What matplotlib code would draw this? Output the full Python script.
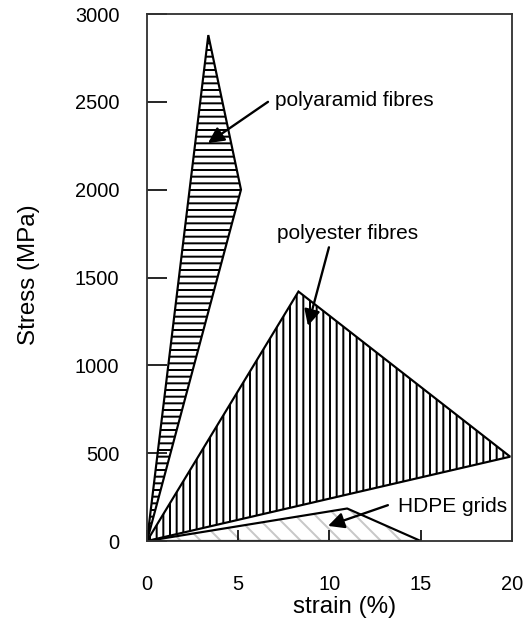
import matplotlib
matplotlib.use("Agg")
import matplotlib.pyplot as plt

# stress-strain envelopes (strain in %, stress in MPa)
aramid_strain = [0, 3.36, 5.15, 0]
aramid_stress = [0, 2880, 2000, 0]
polyester_strain = [0, 8.3, 19.9, 0]
polyester_stress = [0, 1420, 480, 0]
hdpe_strain = [0, 10.97, 15, 0]
hdpe_stress = [0, 185, 0, 0]

x_ticks = [0, 5, 10, 15, 20]
y_ticks = [0, 500, 1000, 1500, 2000, 2500, 3000]

plt.rcParams['font.family'] = ['Liberation Sans', 'DejaVu Sans']
plt.rcParams['hatch.linewidth'] = 1.2

fig = plt.figure(figsize=(525 / 120, 637 / 120), dpi=120)
ax = fig.add_axes([0.28, 0.1507, 0.6952, 0.8273])

ax.fill(polyester_strain, polyester_stress, facecolor='white', edgecolor='black',
        hatch='|||', lw=1.3)
ax.fill(aramid_strain, aramid_stress, facecolor='white', edgecolor='black',
        hatch='---', lw=1.3)
ax.fill(hdpe_strain, hdpe_stress, facecolor='white', edgecolor='#c8c8c8',
        hatch='\\\\', lw=0)
ax.plot(hdpe_strain, hdpe_stress, color='black', lw=1.3)

arrow = dict(arrowstyle='-|>', color='black', lw=1.4, mutation_scale=20,
             shrinkA=0, shrinkB=0)
ax.annotate('', xy=(3.34, 2265), xytext=(6.63, 2500), arrowprops=arrow)
ax.annotate('', xy=(8.82, 1225), xytext=(9.97, 1672), arrowprops=arrow)
ax.annotate('', xy=(9.92, 86), xytext=(13.2, 204), arrowprops=arrow)

ax.text(7.0, 2505, 'polyaramid fibres', fontsize=12.5, va='center', ha='left')
ax.text(7.12, 1753, 'polyester fibres', fontsize=12.5, va='center', ha='left')
ax.text(13.75, 194, 'HDPE grids', fontsize=12.5, va='center', ha='left')

ax.set_xlim(0, 20)
ax.set_ylim(0, 3000)
ax.set_xticks(x_ticks)
ax.set_yticks(y_ticks)
ax.tick_params(axis='y', direction='in', length=12, width=1.0, pad=16.5,
               labelsize=12)
ax.tick_params(axis='x', direction='in', length=6.5, width=1.0, pad=20.5,
               labelsize=12)

for s in ax.spines.values():
    s.set_linewidth(1.1)
    s.set_color('#333333')

ax.set_xlabel('strain (%)', fontsize=14.5, va='center')
ax.set_ylabel('Stress (MPa)', fontsize=14.5, va='center')
ax.xaxis.set_label_coords(0.542, -0.125)
ax.yaxis.set_label_coords(-0.322, 0.505)

fig.savefig('out.png', dpi=120)
